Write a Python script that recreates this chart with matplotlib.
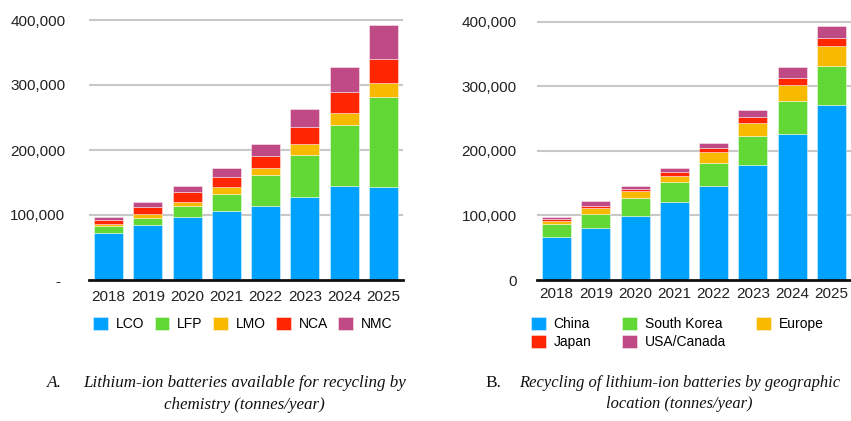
import matplotlib
matplotlib.use("Agg")
import matplotlib.pyplot as plt
from matplotlib.patches import Patch
from matplotlib.ticker import FixedLocator, FixedFormatter
import numpy as np

# ---- data (tonnes / year) ----
years = ["2018", "2019", "2020", "2021", "2022", "2023", "2024", "2025"]

chem_names = ["LCO", "LFP", "LMO", "NCA", "NMC"]
lco = [72000, 85000, 97000, 106000, 114000, 128000, 145000, 143000]
lfp = [11000, 10000, 17000, 27000, 47500, 65000, 93000, 139000]
lmo = [3000, 6000, 6000, 9600, 10300, 16000, 19000, 20600]
nca = [7000, 11000, 15000, 15400, 19200, 26000, 33000, 37900]
nmc = [4400, 8500, 9600, 14800, 19000, 27600, 38000, 52500]

region_names = ["China", "South Korea", "Europe", "Japan", "USA/Canada"]
china = [66600, 81000, 99600, 121300, 145500, 178600, 225500, 271500]
south_korea = [19400, 21700, 27400, 30700, 36200, 44400, 51500, 60500]
europe = [6000, 8300, 10800, 9500, 16300, 20600, 25000, 31000]
japan = [2500, 3600, 3600, 5500, 7000, 8400, 11000, 11000]
usa_canada = [3500, 7200, 4100, 6000, 6600, 12000, 17000, 18800]

y_ticks = [0, 100000, 200000, 300000, 400000]
left_tick_labels = ["- ", "100,000", "200,000", "300,000", "400,000"]
right_tick_labels = ["0", "100,000", "200,000", "300,000", "400,000"]

caption_a_num = "A."
caption_a_1 = "Lithium-ion batteries available for recycling by"
caption_a_2 = "chemistry (tonnes/year)"
caption_b_num = "B."
caption_b_1 = "Recycling of lithium-ion batteries by geographic"
caption_b_2 = "location (tonnes/year)"

colors = ["#00A2FF", "#61D836", "#F8BA00", "#FF2600", "#BF4A85"]

plt.rcParams["font.family"] = ["Liberation Sans", "DejaVu Sans"]

W, H = 851, 421
fig = plt.figure(figsize=(W / 100, H / 100), dpi=100)


def px_axes(left, right, bottom, top):
    return fig.add_axes([left / W, 1 - bottom / H, (right - left) / W, (bottom - top) / H])


def stacked(ax, series, ymax, labels, ypad, xpad):
    x = np.arange(len(years))
    base = np.zeros(len(years))
    for vals, c in zip(series, colors):
        v = np.array(vals, dtype=float)
        ax.bar(x, v, width=0.74, bottom=base, color=c, edgecolor=(1, 1, 1, 0.6),
               linewidth=0.5, zorder=3)
        base += v
    ax.set_xlim(-0.5, len(years) - 0.5)
    ax.set_ylim(0, ymax)
    ax.set_xticks(x)
    ax.set_xticklabels(years, fontsize=11, color="#222222")
    ax.yaxis.set_major_locator(FixedLocator(y_ticks))
    ax.yaxis.set_major_formatter(FixedFormatter(labels))
    ax.tick_params(axis="y", length=0, pad=ypad, labelsize=11, labelcolor="#222222")
    ax.tick_params(axis="x", length=0, pad=xpad)
    for t in y_ticks[1:]:
        ax.axhline(t, color="#C8C8C8", linewidth=1.5, zorder=1)
    for s in ["top", "right", "left"]:
        ax.spines[s].set_visible(False)
    ax.spines["bottom"].set_color("#111111")
    ax.spines["bottom"].set_linewidth(2.0)
    ax.spines["bottom"].set_zorder(4)


# left panel: by chemistry
ax1 = px_axes(89, 403, 280, 280 - 410 / 400 * 260)
stacked(ax1, [lco, lfp, lmo, nca, nmc], 410000, left_tick_labels, 17, 7)

# right panel: by geographic location
ax2 = px_axes(537, 851, 280, 280 - 410 / 400 * 258.3)
stacked(ax2, [china, south_korea, europe, japan, usa_canada], 410000, right_tick_labels, 14.5, 5)

# legends
h1 = [Patch(facecolor=c, edgecolor=(1, 1, 1, 0.6), linewidth=0.5) for c in colors]
fig.legend(h1, chem_names, loc="center left", bbox_to_anchor=(93 / W, 1 - 324 / H),
           ncol=5, frameon=False, fontsize=10, handlelength=1.05, handleheight=1.05,
           handletextpad=0.58, columnspacing=0.75, borderpad=0, borderaxespad=0)

order = [0, 3, 1, 4, 2]
h2 = [Patch(facecolor=colors[i], edgecolor=(1, 1, 1, 0.6), linewidth=0.5) for i in order]
fig.legend(h2, [region_names[i] for i in order], loc="center left",
           bbox_to_anchor=(531 / W, 1 - 333 / H), ncol=3, frameon=False, fontsize=10,
           handlelength=1.05, handleheight=1.05, handletextpad=0.58, columnspacing=2.2,
           labelspacing=0.25, borderpad=0, borderaxespad=0)

# captions: a numbered label, then a two-line centred paragraph
cap_font = dict(family=["Liberation Serif", "DejaVu Serif"], color="#111111", va="center")
fig.canvas.draw()
renderer = fig.canvas.get_renderer()


def caption(num, num_style, x_num, x0, x1, y1, y2, line1, line2):
    fig.text(x_num / W, 1 - y1 / H, num, fontsize=12.5, style=num_style, **cap_font)
    t = fig.text(x0 / W, 1 - y1 / H, line1, ha="left", fontsize=12, style="italic", **cap_font)
    w = t.get_window_extent(renderer).width
    size = 12 * (x1 - x0) / w
    t.set_fontsize(size)
    fig.text((x0 + x1) / 2 / W, 1 - y2 / H, line2, ha="center", fontsize=size,
             style="italic", **cap_font)


caption(caption_a_num, "italic", 47, 83, 406, 383, 405, caption_a_1, caption_a_2)
caption(caption_b_num, "normal", 485, 519, 840, 383, 404, caption_b_1, caption_b_2)

fig.savefig("out.png", dpi=100)
